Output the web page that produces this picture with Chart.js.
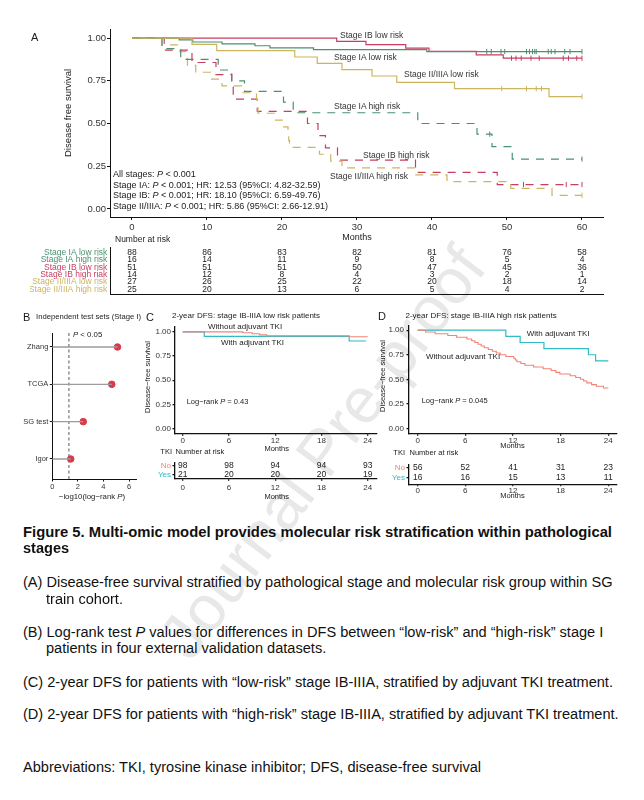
<!DOCTYPE html>
<html>
<head>
<meta charset="utf-8">
<title>Figure 5</title>
<script src="https://cdn.jsdelivr.net/npm/chart.js@4.4.1/dist/chart.umd.min.js"></script>
<style>
  html, body { margin: 0; padding: 0; background: #fff; }
  body { position: relative; width: 644px; height: 800px; overflow: hidden;
         font-family: "Liberation Sans", Arial, Helvetica, sans-serif; color: #1b1b1b; }
  canvas { position: absolute; }
  .t { position: absolute; white-space: nowrap; line-height: 1; transform: translateY(-50%); }
  .r { transform: translate(-100%, -50%); }
  .c { transform: translate(-50%, -50%); }
  .v { transform: translate(-50%, -50%) rotate(-90deg); }
  .let { font-size: 11px; }
  .cap { position: absolute; white-space: nowrap; line-height: 1; font-size: 14px; color: #111;
         transform-origin: 0 50%; transform: translateY(-50%); }
  .b { font-weight: bold; }
  #wm { position: absolute; left: 322px; top: 452px; transform: translate(-50%, -50%) rotate(-53deg);
        font-size: 64px; color: #e8e8e8; white-space: nowrap; }
</style>
</head>
<body>
<div id="wm">Journal Pre-proof</div>

<canvas id="cA"></canvas>
<canvas id="cAt"></canvas>
<canvas id="cB"></canvas>
<canvas id="cC"></canvas>
<canvas id="cCt"></canvas>
<canvas id="cD"></canvas>
<canvas id="cDt"></canvas>

<!-- panel A text -->
<div class="t let" style="left:31px; top:37px">A</div>
<div class="t v" style="left:68px; top:113px; font-size:9.5px">Disease free survival</div>
<div class="t c" style="left:357px; top:237px; font-size:9px">Months</div>
<div class="t" style="left:115px; top:239px; font-size:8.5px">Number at risk</div>
<div class="t" style="left:340px; top:35px; font-size:8.5px; color:#333">Stage IB low risk</div>
<div class="t" style="left:334px; top:56.7px; font-size:8.5px; color:#333">Stage IA low risk</div>
<div class="t" style="left:404px; top:74px; font-size:8.5px; color:#333">Stage II/IIIA low risk</div>
<div class="t" style="left:334px; top:106px; font-size:8.5px; color:#333">Stage IA high risk</div>
<div class="t" style="left:363px; top:155px; font-size:8.5px; color:#333">Stage IB high risk</div>
<div class="t" style="left:330px; top:176px; font-size:8.5px; color:#333">Stage II/IIIA high risk</div>
<div class="t" style="left:113px; top:174px; font-size:9px">All stages: <i>P</i> &lt; 0.001</div>
<div class="t" style="left:113px; top:184.6px; font-size:9px">Stage IA: <i>P</i> &lt; 0.001; HR: 12.53 (95%CI: 4.82-32.59)</div>
<div class="t" style="left:113px; top:195.2px; font-size:9px">Stage IB: <i>P</i> &lt; 0.001; HR: 18.10 (95%CI: 6.59-49.76)</div>
<div class="t" style="left:113px; top:205.8px; font-size:9px">Stage II/IIIA: <i>P</i> &lt; 0.001; HR: 5.86 (95%CI: 2.66-12.91)</div>

<!-- panel B text -->
<div class="t let" style="left:23px; top:317px">B</div>
<div class="t" style="left:36px; top:317px; font-size:7.7px">Independent test sets (Stage I)</div>
<div class="t" style="left:73px; top:335px; font-size:7.8px"><i>P</i> &lt; 0.05</div>
<div class="t c" style="left:92px; top:497px; font-size:7.8px">−log10(log−rank <i>P</i>)</div>

<!-- panel C text -->
<div class="t let" style="left:146px; top:317px">C</div>
<div class="t" style="left:172px; top:316px; font-size:8px">2-year DFS: stage IB-IIIA low risk patients</div>
<div class="t v" style="left:148.3px; top:377px; font-size:7.5px">Disease−free survival</div>
<div class="t" style="left:208px; top:326.7px; font-size:8px">Without adjuvant TKI</div>
<div class="t" style="left:221px; top:343.3px; font-size:8px">With adjuvant TKI</div>
<div class="t" style="left:186.7px; top:401.7px; font-size:7.5px">Log−rank <i>P</i> = 0.43</div>
<div class="t c" style="left:276.7px; top:449px; font-size:7.5px">Months</div>
<div class="t r" style="left:172px; top:451.7px; font-size:7.5px">TKI</div>
<div class="t" style="left:175.5px; top:451.7px; font-size:7.5px">Number at risk</div>
<div class="t c" style="left:276.7px; top:497.3px; font-size:7.5px">Months</div>

<!-- panel D text -->
<div class="t let" style="left:378px; top:316px">D</div>
<div class="t" style="left:405.5px; top:316px; font-size:8px">2-year DFS: stage IB-IIIA high risk patients</div>
<div class="t v" style="left:383.3px; top:376px; font-size:7.5px">Disease−free survival</div>
<div class="t" style="left:526.7px; top:334px; font-size:8px">With adjuvant TKI</div>
<div class="t" style="left:426px; top:356.7px; font-size:8px">Without adjuvant TKI</div>
<div class="t" style="left:421.7px; top:400.7px; font-size:7.5px">Log−rank <i>P</i> = 0.045</div>
<div class="t c" style="left:512.5px; top:445.7px; font-size:7.5px">Months</div>
<div class="t r" style="left:405px; top:452.7px; font-size:7.5px">TKI</div>
<div class="t" style="left:409.5px; top:452.7px; font-size:7.5px">Number at risk</div>
<div class="t c" style="left:512.5px; top:496px; font-size:7.5px">Months</div>

<!-- caption -->
<div class="cap b" id="capTitle" style="left:23px; top:532px">Figure 5. Multi-omic model provides molecular risk stratification within pathological</div>
<div class="cap b" style="left:23px; top:548px">stages</div>
<div class="cap" id="capRef" style="left:23px; top:582px">(A) Disease-free survival stratified by pathological stage and molecular risk group within SG</div>
<div class="cap" style="left:46px; top:599px">train cohort.</div>
<div class="cap" style="left:23px; top:632px">(B) Log-rank test <i>P</i> values for differences in DFS between “low-risk” and “high-risk” stage I</div>
<div class="cap" style="left:46px; top:648px">patients in four external validation datasets.</div>
<div class="cap" style="left:23px; top:682px">(C) 2-year DFS for patients with “low-risk” stage IB-IIIA, stratified by adjuvant TKI treatment.</div>
<div class="cap" style="left:23px; top:714px">(D) 2-year DFS for patients with “high-risk” stage IB-IIIA, stratified by adjuvant TKI treatment.</div>
<div class="cap" style="left:23px; top:767px">Abbreviations: TKI, tyrosine kinase inhibitor; DFS, disease-free survival</div>

<script>
/* ===============================
   DATA
================================ */
// Panel A - Kaplan-Meier steps (months / survival after each event)
const monthsA = [0, 10, 20, 30, 40, 50, 60];
const survTicks = [0, 0.25, 0.5, 0.75, 1];

const iaLowT = [0, 6.3, 8.1, 12.0, 16.4, 18.4, 24.2, 39.3, 60];
const iaLowS = [1, 0.989, 0.977, 0.966, 0.955, 0.943, 0.932, 0.921, 0.921];
const iaLowCens = [47.3, 47.9, 49.2, 49.7, 52.6, 53.0, 53.4, 53.7, 53.9, 55.5, 55.9, 56.4, 57.7, 58.4, 60];

const ibLowT = [0, 27.3, 31.2, 36.5, 39.6, 45.9, 49.5, 60];
const ibLowS = [1, 0.98, 0.961, 0.941, 0.922, 0.902, 0.882, 0.882];
const ibLowCens = [50.6, 51.2, 51.9, 53.2, 54.3, 57.5, 58.2, 59.3, 60];

const iiLowT = [0, 8.0, 11.3, 21.7, 24.7, 28.0, 32.0, 35.3, 43.0, 55.6, 60];
const iiLowS = [1, 0.963, 0.926, 0.889, 0.852, 0.815, 0.778, 0.741, 0.704, 0.657, 0.657];
const iiLowCens = [49.3, 52.6, 53.9, 54.6, 60];

const iaHighT = [0, 4.0, 6.5, 11.5, 13.3, 15.0, 20.2, 21.5, 38.1, 46.0, 48.0, 50.7, 60];
const iaHighS = [1, 0.938, 0.875, 0.813, 0.75, 0.688, 0.625, 0.563, 0.5, 0.438, 0.365, 0.292, 0.292];
const iaHighCens = [47.7, 60];

const ibHighT = [0, 4.3, 8.0, 11.2, 13.3, 13.5, 16.7, 23.4, 24.8, 25.8, 27.4, 37.8, 48.7, 60];
const ibHighS = [1, 0.929, 0.857, 0.786, 0.714, 0.643, 0.571, 0.5, 0.429, 0.357, 0.286, 0.214, 0.143, 0.143];
const ibHighCens = [52.2, 57.9, 60];

const iiHighT = [0, 4.0, 6.4, 7.2, 7.4, 8.5, 10.5, 12.0, 14.6, 16.6, 16.7, 16.8, 19.0, 20.2, 20.8, 20.9, 21.0, 25.0, 26.5, 28.0, 37.7, 42.0, 50.5, 56.0, 60];
const iiHighS = [1, 0.96, 0.92, 0.88, 0.84, 0.8, 0.76, 0.72, 0.68, 0.64, 0.6, 0.56, 0.52, 0.48, 0.44, 0.4, 0.36, 0.32, 0.28, 0.24, 0.2, 0.16, 0.12, 0.08, 0.08];
const iiHighCens = [60];

const riskRowsA = ['Stage IA low risk', 'Stage IA high risk', 'Stage IB low risk', 'Stage IB high riak', 'Stage II/IIIA low risk', 'Stage II/IIIA high risk'];
const riskA = [
  [88, 86, 83, 82, 81, 76, 58],
  [16, 14, 11, 9, 8, 5, 4],
  [51, 51, 51, 50, 47, 45, 36],
  [14, 12, 8, 4, 3, 2, 1],
  [27, 26, 25, 22, 20, 18, 14],
  [25, 20, 13, 6, 5, 4, 2],
];

// Panel B - lollipop of -log10(log-rank P)
const setNames = ['Zhang', 'TCGA', 'SG test', 'Igor'];
const setLogP = [5.1, 4.65, 2.42, 1.44];
const refLogP = 1.301; // P = 0.05
const logTicks = [0, 2, 4, 6];

// Panels C/D - 2-year DFS by adjuvant TKI
const monthsCD = [0, 6, 12, 18, 24];
const tkiRows = ['No', 'Yes'];

const cWithT = [0, 2.8, 21.6, 23.8];
const cWithS = [1, 0.952, 0.905, 0.905];
const cWithoutT = [0, 7.8, 9.0, 10.0, 10.9, 21.6, 24];
const cWithoutS = [1, 0.99, 0.98, 0.969, 0.959, 0.949, 0.949];
const riskC = [[98, 98, 94, 94, 93], [21, 20, 20, 20, 19]];

const dWithT = [0, 11.1, 12.9, 15.9, 21.5, 22.4, 24];
const dWithS = [1, 0.938, 0.875, 0.813, 0.75, 0.688, 0.688];
const dWithoutT = [0, 1.0, 2.2, 3.8, 4.9, 6.2, 6.8, 7.2, 7.6, 8.0, 8.4, 8.9, 9.4, 9.9, 10.4, 11.1, 12.1, 12.3, 12.5, 13.0, 13.5, 14.6, 15.8, 16.8, 17.4, 17.9, 19.2, 19.9, 20.5, 20.9, 21.3, 21.9, 22.5, 23.4, 24];
const dWithoutS = [1, 0.982, 0.964, 0.946, 0.929, 0.911, 0.893, 0.875, 0.857, 0.839, 0.821, 0.804, 0.786, 0.768, 0.75, 0.732, 0.714, 0.696, 0.679, 0.661, 0.643, 0.625, 0.607, 0.589, 0.571, 0.554, 0.536, 0.518, 0.5, 0.482, 0.464, 0.446, 0.429, 0.411, 0.411];
const riskD = [[56, 52, 41, 31, 23], [16, 16, 15, 13, 11]];

/* ===============================
   STYLE
================================ */
const FONT = '"Liberation Sans", Arial, Helvetica, sans-serif';
const GREEN = '#4b9170';
const RED = '#c63e60';
const GOLD = '#cbb55f';
const SALMON = '#ef8577';
const TEAL = '#2fbcc5';
const rowColorsA = [GREEN, GREEN, RED, RED, GOLD, GOLD];
const tkiColors = [SALMON, TEAL];

/* ===============================
   HELPERS
================================ */
function place(id, left, top, w, h) {
  const c = document.getElementById(id);
  c.width = w;
  c.height = h;
  c.style.left = left + 'px';
  c.style.top = top + 'px';
  return c;
}

function steps(t, s) {
  return t.map((x, i) => ({ x: x, y: s[i] }));
}

function survAt(t, s, time) {
  let v = s[0];
  t.forEach((x, i) => {
    if (x <= time) v = s[i];
  });
  return v;
}

function kmLine(t, s, color, dash, width) {
  return {
    data: steps(t, s),
    borderColor: color,
    borderWidth: width || 1.2,
    borderDash: dash || [],
    stepped: true,
    pointRadius: 0,
    fill: false,
  };
}

function censorTicks(t, s, times, color) {
  return {
    data: times.map((x) => ({ x: x, y: survAt(t, s, x) })),
    showLine: false,
    pointStyle: 'line',
    pointRotation: 90,
    pointRadius: 2.6,
    pointBorderWidth: 1,
    pointBorderColor: color,
    borderColor: color,
  };
}

function scaleOpts(o) {
  return {
    type: 'linear',
    min: o.min,
    max: o.max,
    reverse: !!o.reverse,
    afterBuildTicks: (s) => {
      s.ticks = o.ticks.map((v) => ({ value: v }));
    },
    afterFit: (s) => {
      if (o.w != null) s.width = o.w;
      if (o.h != null) s.height = o.h;
    },
    border: { display: true, color: '#111', width: o.bw || 1 },
    grid: {
      display: (o.tickLen || 0) > 0,
      drawOnChartArea: false,
      drawTicks: (o.tickLen || 0) > 0,
      tickLength: o.tickLen || 0,
      color: '#111',
      lineWidth: o.bw || 1,
    },
    ticks: {
      display: o.size > 0,
      font: { family: FONT, size: o.size || 8 },
      color: o.colors ? (c) => o.colors[c.index] : '#333',
      padding: o.pad || 0,
      maxRotation: 0,
      minRotation: 0,
      autoSkip: false,
      callback: o.fmt || ((v) => v),
    },
  };
}

function baseOptions(pad, x, y) {
  return {
    responsive: false,
    animation: false,
    events: [],
    layout: { padding: pad },
    plugins: { legend: { display: false }, tooltip: { enabled: false } },
    scales: { x: x, y: y },
  };
}

function riskPlugin(rows, times, size) {
  return {
    id: 'riskNumbers',
    afterDraw(chart) {
      const { ctx, scales } = chart;
      ctx.save();
      ctx.font = size + 'px ' + FONT;
      ctx.fillStyle = '#222';
      ctx.textAlign = 'center';
      ctx.textBaseline = 'middle';
      rows.forEach((row, r) => {
        row.forEach((n, k) => {
          ctx.fillText(String(n), scales.x.getPixelForValue(times[k]), scales.y.getPixelForValue(r));
        });
      });
      ctx.restore();
    },
  };
}

function refLinePlugin(value) {
  return {
    id: 'refLine',
    beforeDatasetsDraw(chart) {
      const { ctx, chartArea, scales } = chart;
      const px = scales.x.getPixelForValue(value);
      ctx.save();
      ctx.strokeStyle = '#444';
      ctx.lineWidth = 0.9;
      ctx.setLineDash([3, 2.5]);
      ctx.beginPath();
      ctx.moveTo(px, chartArea.top);
      ctx.lineTo(px, chartArea.bottom);
      ctx.stroke();
      ctx.restore();
    },
  };
}

const fmt2 = (v) => Number(v).toFixed(2);

/* ===============================
   PANEL A
================================ */
const dash = [8, 7];
new Chart(place('cA', 30, 20, 600, 225), {
  type: 'line',
  data: {
    datasets: [
      kmLine(iiLowT, iiLowS, GOLD),
      kmLine(iaLowT, iaLowS, GREEN),
      kmLine(ibLowT, ibLowS, RED),
      kmLine(iaHighT, iaHighS, GREEN, dash),
      kmLine(iiHighT, iiHighS, GOLD, dash),
      kmLine(ibHighT, ibHighS, RED, dash),
      censorTicks(iaLowT, iaLowS, iaLowCens, GREEN),
      censorTicks(ibLowT, ibLowS, ibLowCens, RED),
      censorTicks(iiLowT, iiLowS, iiLowCens, GOLD),
      censorTicks(iaHighT, iaHighS, iaHighCens, GREEN),
      censorTicks(ibHighT, ibHighS, ibHighCens, RED),
      censorTicks(iiHighT, iiHighS, iiHighCens, GOLD),
    ],
  },
  options: baseOptions(
    { left: 0, top: 9.5, right: 27, bottom: 0 },
    scaleOpts({ min: -2.93, max: 62.8, ticks: monthsA, size: 9.5, pad: 2, tickLen: 3, h: 28 }),
    scaleOpts({ min: -0.047, max: 1.05, ticks: survTicks, size: 9.5, pad: 1, tickLen: 3, w: 80, fmt: fmt2 })
  ),
});

new Chart(place('cAt', 30, 240, 600, 62), {
  type: 'scatter',
  data: { datasets: [] },
  options: baseOptions(
    { left: 0, top: 4, right: 27, bottom: 0 },
    scaleOpts({ min: -2.93, max: 62.8, ticks: monthsA, size: 0, h: 2 }),
    scaleOpts({
      min: -0.682, max: 5.682, reverse: true, ticks: [0, 1, 2, 3, 4, 5], size: 8.5, pad: 2.7, w: 80,
      colors: rowColorsA, fmt: (v, i) => riskRowsA[i],
    })
  ),
  plugins: [riskPlugin(riskA, monthsA, 8.5)],
});

/* ===============================
   PANEL B
================================ */
const stemData = [];
setNames.forEach((n, i) => {
  const pos = setNames.length - i;
  stemData.push({ x: 0, y: pos }, { x: setLogP[i], y: pos }, { x: null, y: null });
});

new Chart(place('cB', 20, 325, 125, 170), {
  type: 'line',
  data: {
    datasets: [
      { data: stemData, borderColor: '#9c9c9c', borderWidth: 1.4, pointRadius: 0, spanGaps: false },
      {
        data: setLogP.map((v, i) => ({ x: v, y: setNames.length - i })),
        showLine: false,
        pointRadius: 3.3,
        pointBackgroundColor: '#d63c4c',
        pointBorderColor: '#d63c4c',
      },
    ],
  },
  options: baseOptions(
    { left: 0, top: 8, right: 8.3, bottom: 0 },
    scaleOpts({ min: 0, max: 6.6, ticks: logTicks, size: 7.5, pad: 1, tickLen: 2.5, h: 16 }),
    scaleOpts({
      min: 0.464, max: 4.375, ticks: [1, 2, 3, 4], size: 7.5, pad: 1.5, tickLen: 2.5, w: 32.3,
      fmt: (v) => setNames[setNames.length - v],
    })
  ),
  plugins: [refLinePlugin(refLogP)],
});

/* ===============================
   PANELS C & D
================================ */
new Chart(place('cC', 130, 320, 255, 125), {
  type: 'line',
  data: {
    datasets: [kmLine(cWithoutT, cWithoutS, SALMON, null, 1.1), kmLine(cWithT, cWithS, TEAL, null, 1.2)],
  },
  options: baseOptions(
    { left: 0, top: 7, right: 8.3, bottom: 0 },
    scaleOpts({ min: -1.0, max: 25.17, ticks: monthsCD, size: 8, pad: 0, tickLen: 2.5, h: 11.7, bw: 1.3 }),
    scaleOpts({ min: -0.05, max: 1.05, ticks: survTicks, size: 8, pad: 1.5, tickLen: 2.5, w: 45, bw: 1.3, fmt: fmt2 })
  ),
});

new Chart(place('cCt', 130, 456, 255, 38), {
  type: 'scatter',
  data: { datasets: [] },
  options: baseOptions(
    { left: 0, top: 4, right: 8.3, bottom: 0 },
    scaleOpts({ min: -1.0, max: 25.17, ticks: monthsCD, size: 8, pad: 2, tickLen: 2.5, h: 15.7, bw: 1.3 }),
    scaleOpts({
      min: -0.388, max: 1.388, reverse: true, ticks: [0, 1], size: 8, pad: 1.5, tickLen: 2.5, w: 45, bw: 1.3,
      colors: tkiColors, fmt: (v, i) => tkiRows[i],
    })
  ),
  plugins: [riskPlugin(riskC, monthsCD, 8.5)],
});

new Chart(place('cD', 365, 318, 260, 127), {
  type: 'line',
  data: {
    datasets: [kmLine(dWithoutT, dWithoutS, SALMON, null, 1.1), kmLine(dWithT, dWithS, TEAL, null, 1.2)],
  },
  options: baseOptions(
    { left: 0, top: 5.5, right: 8.3, bottom: 0 },
    scaleOpts({ min: -1.09, max: 25.06, ticks: monthsCD, size: 8, pad: 0, tickLen: 2.5, h: 11.7, bw: 1.3 }),
    scaleOpts({ min: -0.05, max: 1.05, ticks: survTicks, size: 8, pad: 2.5, tickLen: 2.5, w: 44, bw: 1.3, fmt: fmt2 })
  ),
});

new Chart(place('cDt', 365, 458, 260, 38), {
  type: 'scatter',
  data: { datasets: [] },
  options: baseOptions(
    { left: 0, top: 4, right: 8.3, bottom: 0 },
    scaleOpts({ min: -1.09, max: 25.06, ticks: monthsCD, size: 8, pad: 0, tickLen: 2, h: 11.7, bw: 1.3 }),
    scaleOpts({
      min: -0.374, max: 1.71, reverse: true, ticks: [0, 1], size: 8, pad: 1.5, tickLen: 2.5, w: 44, bw: 1.3,
      colors: tkiColors, fmt: (v, i) => tkiRows[i],
    })
  ),
  plugins: [riskPlugin(riskD, monthsCD, 8.5)],
});

/* ===============================
   CAPTION WIDTH FIT
================================ */
function fitCaption() {
  const right = 612;
  const ref = document.getElementById('capRef');
  const s = (right - 23) / ref.offsetWidth;
  document.querySelectorAll('.cap').forEach((el) => {
    el.style.transform = 'translateY(-50%) scaleX(' + s + ')';
  });
  const title = document.getElementById('capTitle');
  title.style.transform = 'translateY(-50%) scaleX(' + (right - 23) / title.offsetWidth + ')';
}
fitCaption();
</script>
</body>
</html>
